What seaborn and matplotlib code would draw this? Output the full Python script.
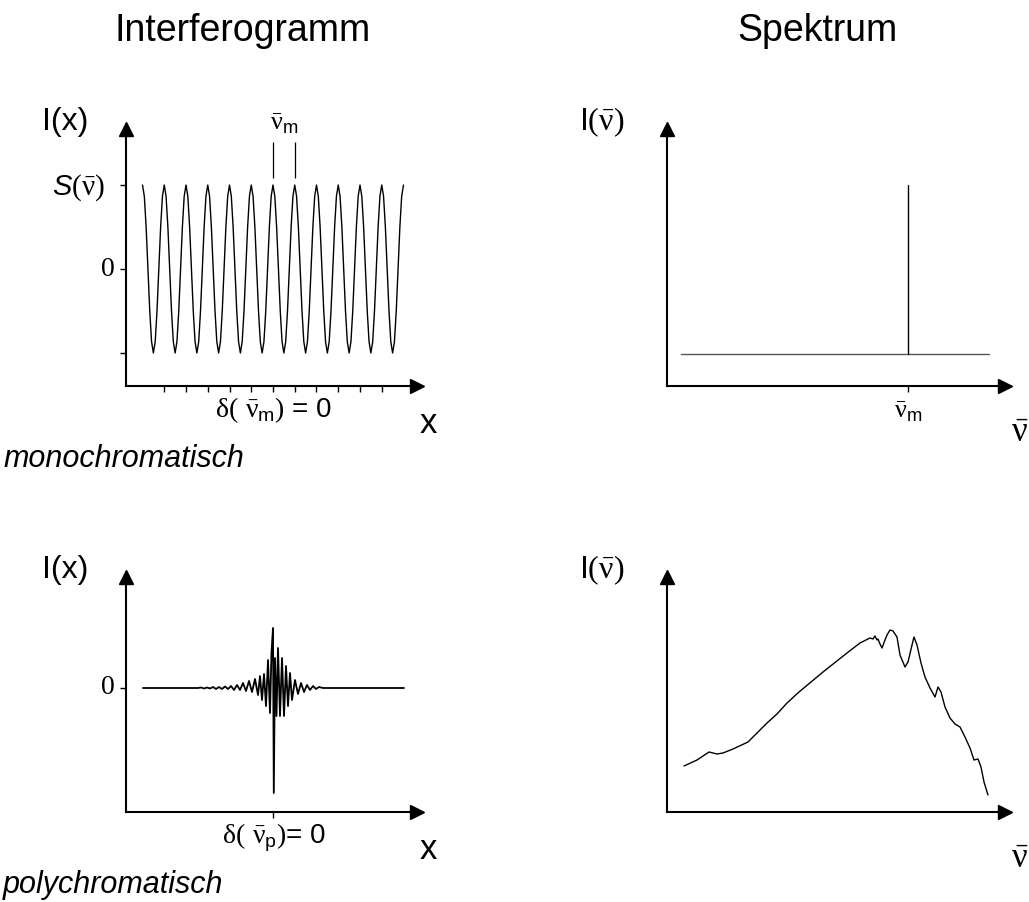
import numpy as np
import matplotlib
matplotlib.use("Agg")
import matplotlib.pyplot as plt
import seaborn as sns

# ---------------- data ----------------
# monochromatic interferogram: sampled cosine, 12 samples per fringe, 12 fringes
mono_x = np.linspace(-6, 6, 145)   # optical path difference in fringe units
mono_I = [
    1, .866, .5, 0, -.5, -.866, -1, -.866, -.5, 0, .5, .866,
    1, .866, .5, 0, -.5, -.866, -1, -.866, -.5, 0, .5, .866,
    1, .866, .5, 0, -.5, -.866, -1, -.866, -.5, 0, .5, .866,
    1, .866, .5, 0, -.5, -.866, -1, -.866, -.5, 0, .5, .866,
    1, .866, .5, 0, -.5, -.866, -1, -.866, -.5, 0, .5, .866,
    1, .866, .5, 0, -.5, -.866, -1, -.866, -.5, 0, .5, .866,
    1, .866, .5, 0, -.5, -.866, -1, -.866, -.5, 0, .5, .866,
    1, .866, .5, 0, -.5, -.866, -1, -.866, -.5, 0, .5, .866,
    1, .866, .5, 0, -.5, -.866, -1, -.866, -.5, 0, .5, .866,
    1, .866, .5, 0, -.5, -.866, -1, -.866, -.5, 0, .5, .866,
    1, .866, .5, 0, -.5, -.866, -1, -.866, -.5, 0, .5, .866,
    1, .866, .5, 0, -.5, -.866, -1, -.866, -.5, 0, .5, .866,
    1,
]
mono_xticks = [-5, -4, -3, -2, -1, 0, 1, 2, 3, 4, 5]
mono_yticks = [1, 0, -1]
fringe_marks = [0, 1]

# monochromatic spectrum (arbitrary wavenumber units)
mono_base_nu = [14, 322]
mono_base_I = [0, 0]
nu_m = 241
line_nu = [nu_m, nu_m]
line_I = [0, 1]

# polychromatic interferogram
poly_x = [-130, -75, -72, -69, -66, -63, -60, -57, -54, -51, -48, -45, -42, -39,
          -36, -33, -30, -27, -24, -21, -18, -15, -13, -11, -9, -7, -5, -3, -1.5,
          0, 0.8, 2, 3.5, 5, 7, 9, 11, 13, 15, 17, 19, 22, 25, 28, 31, 34, 37, 40,
          43, 46, 50, 131]
poly_I = [0, 0, 0.5, -0.5, 0.5, -0.5, 1, -1, 1, -1, 1.5, -1, 2, -2, 3, -2, 5, -3,
          7, -4, 9, -7, 12, -12, 14, -18, 28, -25, 36, 60, -105, 30, -28, 40, -28,
          30, -28, 22, -18, 15, -12, 8, -6, 5, -4, 3, -2, 2, -1, 1, 0, 0]

# polychromatic spectrum
spec_nu = [17, 30, 36, 42, 50, 56, 66, 81, 90, 100, 110, 120, 132, 156, 180, 193,
           203, 206, 208, 210, 211, 213, 215, 218, 220, 223, 226, 230, 233, 238,
           241, 245, 247, 250, 254, 258, 263, 268, 271, 274, 278, 283, 288, 293,
           298, 303, 307, 311, 314, 317, 321]
spec_I = [46, 52, 56, 60, 58, 59, 63, 70, 79, 89, 98, 109, 120, 140, 159, 169,
          174, 173, 176, 172, 173, 168, 164, 172, 177, 182, 181, 175, 157, 145,
          150, 167, 175, 167, 149, 135, 124, 115, 125, 120, 105, 94, 88, 85,
          75, 64, 52, 53, 45, 30, 17]

# ---------------- style ----------------
sns.set_theme(style="white")
plt.rcParams["font.family"] = ["Liberation Sans", "DejaVu Sans"]
plt.rcParams["text.color"] = "black"
plt.rcParams["axes.labelcolor"] = "black"
plt.rcParams["xtick.color"] = "black"
plt.rcParams["ytick.color"] = "black"
plt.rcParams["mathtext.fontset"] = "custom"
plt.rcParams["mathtext.rm"] = "Liberation Serif"
plt.rcParams["mathtext.it"] = "Liberation Sans:italic"
plt.rcParams["mathtext.sf"] = "Liberation Sans"
plt.rcParams["mathtext.bf"] = "Liberation Sans:bold"

W, H = 1029, 902
fig = plt.figure(figsize=(W / 100, H / 100), dpi=100)
fig.patch.set_facecolor("white")


def px_axes(x0, y_axis, x1, y_top):
    ax = fig.add_axes([x0 / W, 1 - y_axis / H, (x1 - x0) / W, (y_axis - y_top) / H])
    ax.set_facecolor("none")
    for s in ("top", "right"):
        ax.spines[s].set_visible(False)
    for s in ("left", "bottom"):
        ax.spines[s].set_color("black")
        ax.spines[s].set_linewidth(1.5)
    ax.plot(1, 0, ">", color="black", ms=9.5, transform=ax.transAxes, clip_on=False)
    ax.plot(0, 1, "^", color="black", ms=9.5, transform=ax.transAxes, clip_on=False)
    ax.tick_params(direction="out", length=4, width=1, color="black",
                   left=True, bottom=True, labelleft=False, labelbottom=False)
    ax.set_xticks([])
    ax.set_yticks([])
    return ax


def ftext(x, y, s, **kw):
    kw.setdefault("color", "black")
    fig.text(x / W, 1 - y / H, s, **kw)


NU = r"\bar{\mathrm{\nu}}"

# ---- top left: monochromatic interferogram ----
ax1 = px_axes(126, 386, 416.5, 128.5)
sns.lineplot(x=mono_x, y=mono_I, ax=ax1, color="black", lw=1.0,
             estimator=None, sort=False)
ax1.set_xlim(-6.759, 6.598)
ax1.set_ylim(-1.393, 1.673)
ax1.set_xticks(mono_xticks)
ax1.set_yticks(mono_yticks)
ax1.vlines(fringe_marks, 1.083, 1.512, color="black", lw=0.9)
ax1.text(0.5, 1.585, rf"${NU}_{{\mathsf{{m}}}}$", ha="center", va="bottom",
         fontsize=19, color="black")

# ---- top right: monochromatic spectrum ----
ax2 = px_axes(667, 386, 1004.5, 128.5)
sns.lineplot(x=mono_base_nu, y=mono_base_I, ax=ax2, color="#555555", lw=1.0,
             estimator=None, sort=False)
sns.lineplot(x=line_nu, y=line_I, ax=ax2, color="black", lw=1.0,
             estimator=None, sort=False)
ax2.set_xlim(0, 337.5)
ax2.set_ylim(-0.189, 1.334)
ax2.set_xticks([nu_m])

# ---- bottom left: polychromatic interferogram ----
ax3 = px_axes(126, 812, 416.5, 576.5)
sns.lineplot(x=poly_x, y=poly_I, ax=ax3, color="black", lw=1.3,
             estimator=None, sort=False)
ax3.set_xlim(-147, 143.5)
ax3.set_ylim(-124, 111.5)
ax3.set_xticks([0])
ax3.set_yticks([0])

# ---- bottom right: polychromatic spectrum ----
ax4 = px_axes(667, 812, 1004.5, 576.5)
sns.lineplot(x=spec_nu, y=spec_I, ax=ax4, color="black", lw=1.0,
             estimator=None, sort=False)
ax4.set_xlim(0, 337.5)
ax4.set_ylim(0, 235.5)

for ax in (ax1, ax2, ax3, ax4):
    ax.set_xlabel("")
    ax.set_ylabel("")

# ---------------- texts ----------------
ftext(243, 41, "Interferogramm", ha="center", va="baseline", fontsize=27)
ftext(817, 41, "Spektrum", ha="center", va="baseline", fontsize=27)

ftext(65, 130, "I(x)", ha="center", va="baseline", fontsize=23)
ftext(602, 130, rf"I$\mathrm{{(}}{NU}\mathrm{{)}}$", ha="center", va="baseline", fontsize=23)
ftext(65, 578, "I(x)", ha="center", va="baseline", fontsize=23)
ftext(602, 578, rf"I$\mathrm{{(}}{NU}\mathrm{{)}}$", ha="center", va="baseline", fontsize=23)

ftext(105, 188, rf"$\mathit{{S}}\mathrm{{(}}{NU}\mathrm{{)}}$", ha="right", va="center", fontsize=21)
ftext(115, 269, "0", ha="right", va="center", fontsize=20, family="Liberation Serif")
ftext(115, 688, "0", ha="right", va="center", fontsize=20, family="Liberation Serif")

ftext(274, 417, rf"$\mathrm{{\delta(}}\ {NU}_{{\mathsf{{m}}}}\mathrm{{)}}$ = 0",
      ha="center", va="baseline", fontsize=20)
ftext(274, 843, rf"$\mathrm{{\delta(}}\ {NU}_{{\mathsf{{p}}}}\mathrm{{)}}$= 0",
      ha="center", va="baseline", fontsize=20)
ftext(428, 433, "x", ha="center", va="baseline", fontsize=25)
ftext(428, 859, "x", ha="center", va="baseline", fontsize=25)

ftext(908, 412, rf"${NU}_{{\mathsf{{m}}}}$", ha="center", va="center", fontsize=19)
ftext(1020, 432, rf"${NU}$", ha="center", va="center", fontsize=25)
ftext(1020, 858, rf"${NU}$", ha="center", va="center", fontsize=25)

ftext(3, 467, "monochromatisch", ha="left", va="baseline", fontsize=22, style="italic")
ftext(3, 893, "polychromatisch", ha="left", va="baseline", fontsize=22, style="italic")

fig.savefig("out.png", dpi=100, facecolor="white")
